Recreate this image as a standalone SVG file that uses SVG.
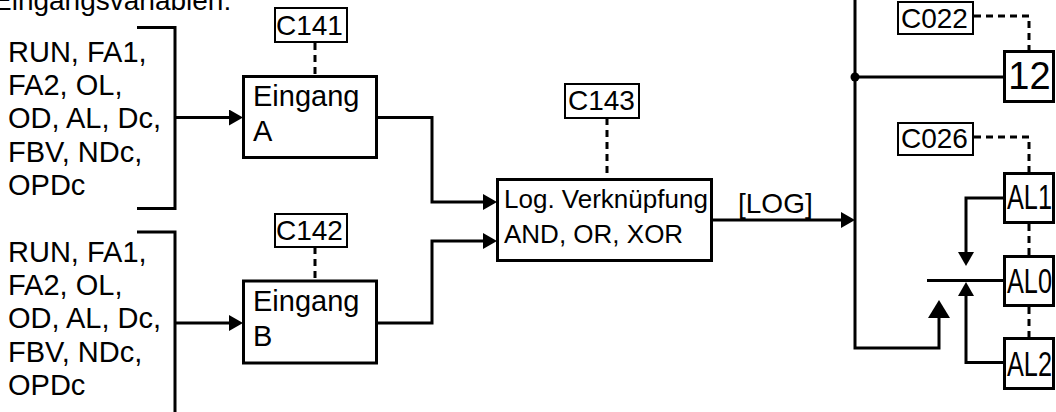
<svg xmlns="http://www.w3.org/2000/svg" width="1056" height="412" viewBox="0 0 1056 412">
<style>
text{font-family:"Liberation Sans",Arial,sans-serif;fill:#000}
.t29{font-size:29px}
.t28{font-size:28px}
.t26{font-size:26px}
.box{fill:#fff;stroke:#000;stroke-width:3}
.cbox{fill:#fff;stroke:#000;stroke-width:2}
.ln{fill:none;stroke:#000;stroke-width:3;stroke-linejoin:miter}
.dash{fill:none;stroke:#000;stroke-width:3;stroke-dasharray:7 5}
.al{font-size:35px}
</style>
<defs>
<marker id="arr" markerUnits="userSpaceOnUse" markerWidth="14" markerHeight="16" refX="0" refY="8" orient="auto" viewBox="0 0 14 16">
<path d="M0,0 L14,8 L0,16 z" fill="#000"/>
</marker>
<marker id="big" markerUnits="userSpaceOnUse" markerWidth="18" markerHeight="22" refX="0" refY="11" orient="auto" viewBox="0 0 18 22">
<path d="M0,0 L18,11 L0,22 z" fill="#000"/>
</marker>
</defs>
<rect width="1056" height="412" fill="#fff"/>

<text class="t28" x="-7" y="10">Eingangsvariablen:</text>

<g id="inputs-a">
<text class="t29"><tspan x="8" y="62">RUN, FA1,</tspan><tspan x="8" y="95">FA2, OL,</tspan><tspan x="8" y="128">OD, AL, Dc,</tspan><tspan x="8" y="162">FBV, NDc,</tspan><tspan x="8" y="195">OPDc</tspan></text>
<path class="ln" d="M137,27.5 H175 V208.5 H137"/>
</g>
<g id="inputs-b">
<text class="t29"><tspan x="8" y="262">RUN, FA1,</tspan><tspan x="8" y="295">FA2, OL,</tspan><tspan x="8" y="328">OD, AL, Dc,</tspan><tspan x="8" y="362">FBV, NDc,</tspan><tspan x="8" y="395">OPDc</tspan></text>
<path class="ln" d="M137,232 H175 V414"/>
</g>

<g id="connectors">
<line class="dash" x1="315" y1="43" x2="315" y2="76"/>
<line class="dash" x1="315" y1="247" x2="315" y2="280"/>
<line class="dash" x1="607" y1="118" x2="607" y2="178"/>
<path class="dash" d="M974,16 H1029 V50"/>
<path class="dash" d="M974,137 H1029 V172"/>
<line class="dash" x1="1029" y1="224" x2="1029" y2="255"/>
<line class="dash" x1="1029" y1="307" x2="1029" y2="337"/>
<line class="ln" x1="175" y1="117.5" x2="229" y2="117.5" marker-end="url(#arr)"/>
<line class="ln" x1="175" y1="323" x2="229" y2="323" marker-end="url(#arr)"/>
<path class="ln" d="M376,117.5 H432 V202 H483" marker-end="url(#arr)"/>
<path class="ln" d="M376,323 H432 V241 H483" marker-end="url(#arr)"/>
<line class="ln" x1="713" y1="220" x2="841" y2="220" marker-end="url(#arr)"/>
<path class="ln" d="M855,-2 V348 H939 V318" marker-end="url(#big)"/>
<line class="ln" x1="855" y1="77" x2="1003" y2="77"/>
<path class="ln" d="M1003,198 H966 V252" marker-end="url(#arr)"/>
<path class="ln" d="M1003,362.5 H966 V296" marker-end="url(#arr)"/>
<line class="ln" x1="927" y1="280.5" x2="1003" y2="280.5"/>
</g>

<g id="junction"><circle cx="855" cy="77" r="4.5" fill="#000"/></g>

<g id="c141"><rect class="cbox" x="275" y="8" width="72" height="34"/><text class="t28" x="276" y="35">C141</text></g>
<g id="c142"><rect class="cbox" x="275" y="214" width="72" height="33"/><text class="t28" x="276" y="240">C142</text></g>
<g id="c143"><rect class="cbox" x="565" y="84" width="74" height="34"/><text class="t28" x="568" y="110">C143</text></g>
<g id="c022"><rect class="cbox" x="898" y="2" width="75" height="32"/><text class="t28" x="901" y="28">C022</text></g>
<g id="c026"><rect class="cbox" x="898" y="123" width="75" height="32"/><text class="t28" x="901" y="148">C026</text></g>

<g id="eingang-a"><rect class="box" x="243.5" y="76.5" width="133" height="81"/><text class="t29"><tspan x="253" y="106">Eingang</tspan><tspan x="253" y="141">A</tspan></text></g>
<g id="eingang-b"><rect class="box" x="243.5" y="281" width="133" height="82"/><text class="t29"><tspan x="253" y="311">Eingang</tspan><tspan x="253" y="346">B</tspan></text></g>

<g id="logic"><rect class="box" x="497.5" y="179.5" width="214" height="81"/><text class="t26"><tspan x="504" y="208">Log. Verknüpfung</tspan><tspan x="504" y="243">AND, OR, XOR</tspan></text></g>
<text id="log-label" class="t28" x="738" y="213">[LOG]</text>

<g id="out12"><rect class="box" x="1004.5" y="51.5" width="49" height="50"/><text x="1029.5" y="89" font-size="38" text-anchor="middle">12</text></g>
<g id="al1"><rect class="box" x="1004.5" y="173.5" width="49" height="49"/><text class="al" x="1007" y="209" textLength="45" lengthAdjust="spacingAndGlyphs">AL1</text></g>
<g id="al0"><rect class="box" x="1004.5" y="256.5" width="49" height="49"/><text class="al" x="1007" y="293" textLength="45" lengthAdjust="spacingAndGlyphs">AL0</text></g>
<g id="al2"><rect class="box" x="1004.5" y="338.5" width="49" height="50"/><text class="al" x="1007" y="376" textLength="45" lengthAdjust="spacingAndGlyphs">AL2</text></g>
</svg>
